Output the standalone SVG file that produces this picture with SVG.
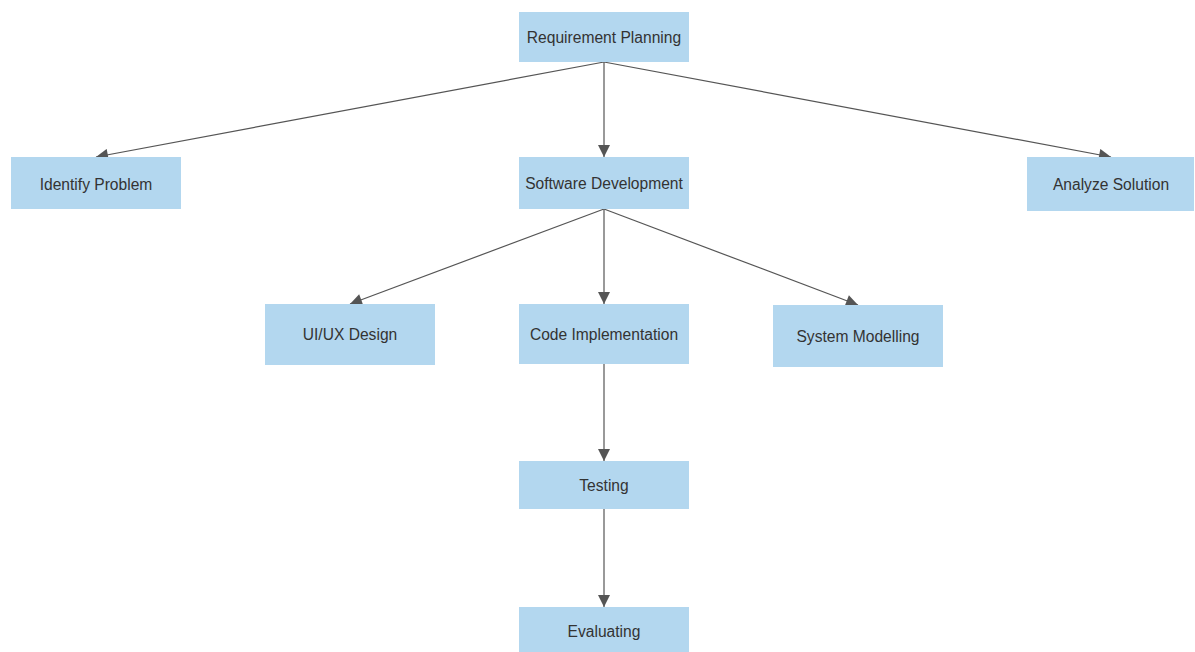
<svg xmlns="http://www.w3.org/2000/svg" width="1195" height="652" viewBox="0 0 1195 652">
<style>
.box{fill:#b3d7ef;}
.lbl{font-family:"Liberation Sans",Arial,sans-serif;font-size:15.6px;fill:#333;text-anchor:middle;dominant-baseline:central;}
.edge{stroke:#555;stroke-width:1.2;fill:none;marker-end:url(#arr);}
</style>
<defs>
<marker id="arr" viewBox="0 0 10 10" refX="10" refY="5" markerWidth="13" markerHeight="12" markerUnits="userSpaceOnUse" orient="auto">
<path d="M0,0 L10,5 L0,10 z" fill="#555"/>
</marker>
</defs>
<rect width="1195" height="652" fill="#fff"/>
<g id="connectors">
<line class="edge" x1="604" y1="62" x2="96" y2="157"/>
<line class="edge" x1="604" y1="62" x2="604" y2="157"/>
<line class="edge" x1="604" y1="62" x2="1111" y2="157"/>
<line class="edge" x1="604" y1="209" x2="350" y2="304"/>
<line class="edge" x1="604" y1="209" x2="604" y2="304"/>
<line class="edge" x1="604" y1="209" x2="858" y2="305"/>
<line class="edge" x1="604" y1="364" x2="604" y2="461"/>
<line class="edge" x1="604" y1="509" x2="604" y2="607"/>
</g>
<g id="n-req"><rect class="box" x="519" y="12" width="170" height="50"/><text class="lbl" x="604" y="37">Requirement Planning</text></g>
<g id="n-idp"><rect class="box" x="11" y="157" width="170" height="52"/><text class="lbl" x="96" y="184">Identify Problem</text></g>
<g id="n-sd"><rect class="box" x="519" y="157" width="170" height="52"/><text class="lbl" x="604" y="183">Software Development</text></g>
<g id="n-as"><rect class="box" x="1027" y="157" width="167" height="54"/><text class="lbl" x="1111" y="184">Analyze Solution</text></g>
<g id="n-ui"><rect class="box" x="265" y="304" width="170" height="61"/><text class="lbl" x="350" y="334">UI/UX Design</text></g>
<g id="n-ci"><rect class="box" x="519" y="304" width="170" height="60"/><text class="lbl" x="604" y="334">Code Implementation</text></g>
<g id="n-sm"><rect class="box" x="773" y="305" width="170" height="62"/><text class="lbl" x="858" y="336">System Modelling</text></g>
<g id="n-test"><rect class="box" x="519" y="461" width="170" height="48"/><text class="lbl" x="604" y="485">Testing</text></g>
<g id="n-eval"><rect class="box" x="519" y="607" width="170" height="50"/><text class="lbl" x="604" y="631">Evaluating</text></g>
</svg>
